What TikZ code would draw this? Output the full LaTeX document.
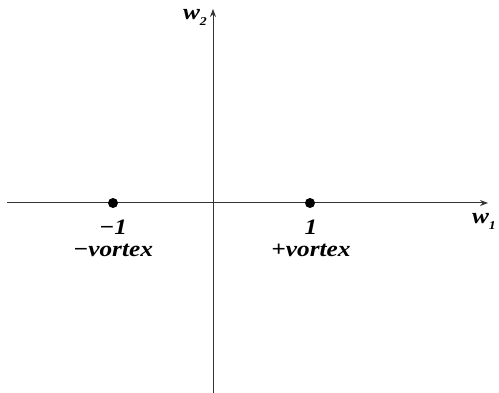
\documentclass[tikz,border=0pt]{standalone}
\usepackage{fontspec}
\setmainfont{Liberation Serif}
\usepackage{tikz}
\usetikzlibrary{arrows.meta, positioning}
\newcommand{\subidx}[1]{\raisebox{-6pt}{\fontsize{12}{12}\selectfont #1}}
\newcommand{\widetext}[1]{\scalebox{1.15}[1]{#1}}
\tikzset{
  axis/.style   = {line width=1pt, draw=black!80, -{Stealth[length=8pt,width=6pt]}},
  vortex/.style = {circle, fill=black, inner sep=0pt, minimum size=10pt},
  lbl/.style    = {font=\fontsize{22}{24}\selectfont\bfseries\itshape, inner sep=0pt},
}
\begin{document}
\begin{tikzpicture}[x=1pt, y=1pt]
    \useasboundingbox (0,0) rectangle (499,393);

    %% axes
    \coordinate (xl) at (7,190);
    \coordinate (xr) at (488,190);
    \coordinate (yb) at (213,0);
    \coordinate (yt) at (213,384);
    \draw[axis] (xl) -- (xr);
    \draw[axis] (yb) -- (yt);

    \node[lbl] (w1) at (484,172) {\widetext{w\subidx{1}}};
    \node[lbl] (w2) at (195,376) {\widetext{w\subidx{2}}};

    %% vortices
    \node[vortex] (vm) at (113,190) {};
    \node[vortex] (vp) at (310,190) {};

    \node[lbl, anchor=base] (nm) at (113,158) {\widetext{\textminus 1}};
    \node[lbl, anchor=base] (tm) at (113,136) {\widetext{\textminus vortex}};
    \node[lbl, anchor=base] (np) at (311,158) {\widetext{1}};
    \node[lbl, anchor=base] (tp) at (311,136) {\widetext{+vortex}};

\end{tikzpicture}
\end{document}
